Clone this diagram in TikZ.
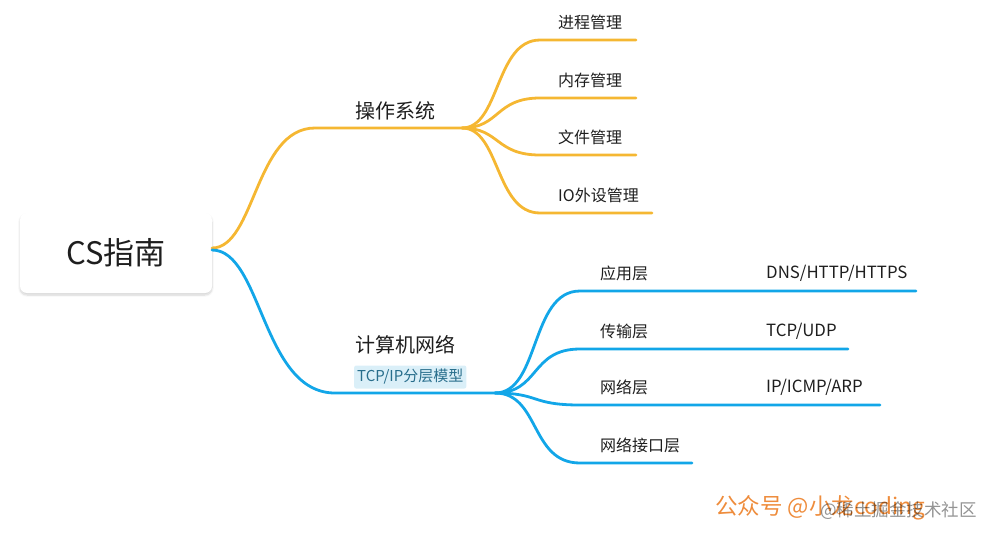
\documentclass[tikz,border=0pt]{standalone}
\usepackage{fontspec}
\setmainfont{Noto Sans CJK SC}
\usetikzlibrary{shadows.blur}
\definecolor{org}{RGB}{245,183,50}
\definecolor{blu}{RGB}{18,166,232}
\definecolor{tagbg}{RGB}{218,239,248}
\definecolor{tagtx}{RGB}{40,110,140}
\definecolor{txt}{RGB}{30,30,30}
\definecolor{wm}{RGB}{238,140,60}
\tikzset{
  orgline/.style={draw=org,line width=2.8pt,line cap=round},
  bluline/.style={draw=blu,line width=2.8pt,line cap=round},
  lbl/.style={anchor=west,inner sep=0pt,text=txt,font=\fontsize{16}{18}\selectfont},
  latlbl/.style={anchor=west,inner sep=0pt,text=txt,font=\fontsize{16.8}{18}\selectfont},
  mainlbl/.style={anchor=west,inner sep=0pt,text=txt,font=\fontsize{20}{22}\selectfont},
}
\begin{document}
\begin{tikzpicture}[x=1pt,y=-1pt]
\useasboundingbox (0,0) rectangle (998,539);
% root
\node[draw=none,fill=white,rounded corners=7pt,minimum width=192pt,minimum height=80pt,
  blur shadow={shadow blur steps=8,shadow xshift=0pt,shadow yshift=-2pt,shadow opacity=18},
  font=\fontsize{31}{34}\selectfont,text=txt] (root) at (116,253) {CS指南};
% orange branch
\coordinate (r1) at (212,248);
\coordinate (os) at (462,128);
\draw[orgline] (r1) .. controls (255,248) and (255,128) .. (315,128) -- (os);
\node[mainlbl] (ost) at (355,111) {操作系统};
\foreach \n/\y/\e/\t in {a/40/636/进程管理,b/98/636/内存管理,c/155/636/文件管理,d/213/652/IO外设管理}{
  \coordinate (oe\n) at (\e,\y);
  \draw[orgline] (os) .. controls (500,128) and (495,\y) .. (540,\y) -- (oe\n);
  \node[lbl] (ot\n) at (558,\y-18) {\t};
}
% blue branch
\coordinate (r2) at (212,250);
\coordinate (net) at (495,393);
\draw[bluline] (r2) .. controls (262,250) and (262,393) .. (335,393) -- (net);
\node[mainlbl] (nett) at (355,345) {计算机网络};
\node[anchor=west,fill=tagbg,rounded corners=2pt,inner xsep=3pt,minimum height=23pt,
  text=tagtx,font=\fontsize{15}{17}\selectfont] (tag) at (354,377) {TCP/IP分层模型};
\foreach \n/\y/\e/\t/\s in {a/291/916/应用层/{DNS/HTTP/HTTPS},b/349/848/传输层/{TCP/UDP},c/405/880/网络层/{IP/ICMP/ARP},d/463/692/网络接口层/{}}{
  \coordinate (ne\n) at (\e,\y);
  \draw[bluline] (net) .. controls (540,393) and (530,\y) .. (580,\y) -- (ne\n);
  \node[lbl] (nt\n) at (600,\y-18) {\t};
  \node[latlbl] (ns\n) at (766,\y-18) {\s};
}
% watermark
\node[anchor=west,inner sep=0pt,text=wm,font=\fontsize{22.5}{24}\selectfont] (wm1) at (715,508) {公众号 @小龙coding};
\node[anchor=west,inner sep=0pt,text=black,opacity=0.42,font=\fontsize{17.5}{19}\selectfont] (wm2) at (820,511) {@稀土掘金技术社区};
\end{tikzpicture}
\end{document}
